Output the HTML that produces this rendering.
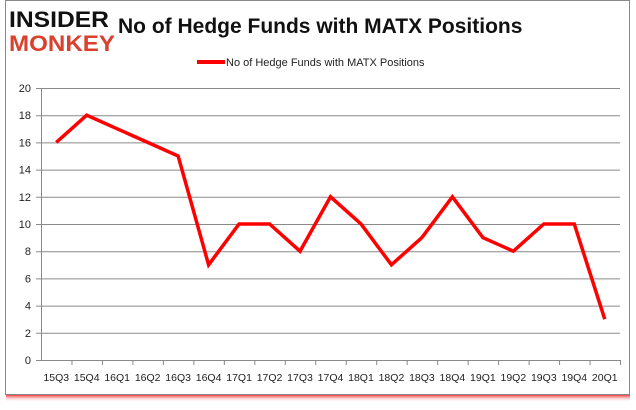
<!DOCTYPE html>
<html><head><meta charset="utf-8"><style>
body{margin:0;background:#fff;width:636px;height:405px;overflow:hidden;font-family:"Liberation Sans",sans-serif}
</style></head><body>
<svg width="636" height="405" xmlns="http://www.w3.org/2000/svg">
<defs><linearGradient id="sh" x1="0" y1="0" x2="0" y2="1"><stop offset="0" stop-color="#e00"/><stop offset="1" stop-color="#fff" stop-opacity="0"/></linearGradient></defs>
<rect x="6" y="394" width="624" height="8" fill="url(#sh)"/>
<rect x="5.5" y="0.5" width="624" height="394" fill="#fff" stroke="#888"/>
<g>
<text x="9" y="27" font-size="22" font-weight="bold" fill="#111" textLength="100" lengthAdjust="spacingAndGlyphs">INSIDER</text>
<text x="9" y="51" font-size="22" font-weight="bold" fill="#d9412e" textLength="106" lengthAdjust="spacingAndGlyphs">MONKEY</text>
</g>
<text x="118" y="33" font-size="21" font-weight="bold" fill="#111">No of Hedge Funds with MATX Positions</text>
<g>
<line x1="197" y1="62" x2="225" y2="62" stroke="#f00" stroke-width="4"/>
<text x="226" y="66" font-size="11" fill="#222">No of Hedge Funds with MATX Positions</text>
</g>
<g id="axes"></g>
<g id="marks"></g>
</svg>
<script>
const categories=["15Q3","15Q4","16Q1","16Q2","16Q3","16Q4","17Q1","17Q2","17Q3","17Q4","18Q1","18Q2","18Q3","18Q4","19Q1","19Q2","19Q3","19Q4","20Q1"];
const values=[16,18,17,16,15,7,10,10,8,12,10,7,9,12,9,8,10,10,3];
const yTicks=[0,2,4,6,8,10,12,14,16,18,20];
const NS="http://www.w3.org/2000/svg";
const L=41,R=620,T=88,B=360;
const bw=(R-L)/categories.length;
const xs=i=>L+bw*(i+0.5);
const ys=v=>B-(v/20)*(B-T);
const ax=document.getElementById('axes'),mk=document.getElementById('marks');
function mkEl(t,a,p){const e=document.createElementNS(NS,t);for(const k in a)e.setAttribute(k,a[k]);p.appendChild(e);return e;}
yTicks.forEach(v=>{
 const g=mkEl('line',{x1:L-5,x2:R,y1:ys(v)+.5,y2:ys(v)+.5,stroke:'#8a8a8a','stroke-width':1},ax);
 
 
 const t=mkEl('text',{x:L-10,y:ys(v)+4,'font-size':11,'text-anchor':'end',fill:'#222'},ax);
 t.textContent=v;
 
 
});
const ya=mkEl('line',{x1:L+.5,x2:L+.5,y1:T,y2:B,stroke:'#888'},ax);


categories.forEach((c,i)=>{
 const tk=mkEl('line',{x1:L+bw*(i+1)+.5,x2:L+bw*(i+1)+.5,y1:B,y2:B+5,stroke:'#888'},ax);
 
 
 const t=mkEl('text',{x:xs(i),y:B+21,'font-size':10.5,'text-anchor':'middle',fill:'#222'},ax);
 t.textContent=c;
 
 
});
const line=mkEl('polyline',{points:values.map((v,i)=>xs(i)+','+ys(v)).join(' '),fill:'none',stroke:'#f00','stroke-width':3.5,'stroke-linejoin':'miter'},mk);


</script>
</body></html>
